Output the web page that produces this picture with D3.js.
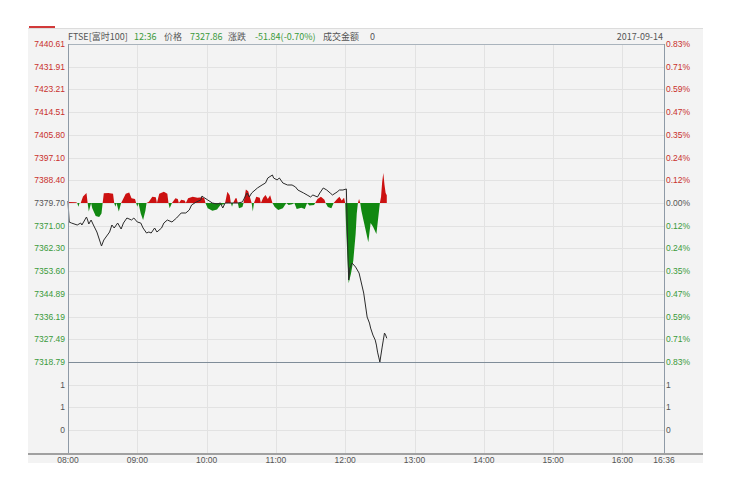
<!DOCTYPE html>
<html>
<head>
<meta charset="utf-8">
<title>FTSE 分时</title>
<script src="https://cdn.jsdelivr.net/npm/d3@7"></script>
<style>
  body { margin: 0; background: #fff; }
  text { font-family: "Liberation Sans", Arial, sans-serif; }
  .cjk { font-family: "Noto Sans CJK SC", "Liberation Sans", sans-serif; }
</style>
</head>
<body>
<svg id="chart"></svg>
<script>

// ---- data ----
var prevClose = 7379.70;
var priceTicks = [7440.61, 7431.91, 7423.21, 7414.51, 7405.80, 7397.10, 7388.40, 7379.70,
                  7371.00, 7362.30, 7353.60, 7344.89, 7336.19, 7327.49, 7318.79];
var volTicks = [1, 0.667, 0.333];
var hourTicks = ["08:00", "09:00", "10:00", "11:00", "12:00", "13:00", "14:00", "15:00", "16:00", "16:36"];

// price line, [time, price]
var priceSeries = [
  ["08:00",7380.47],["08:01",7372.42],["08:03",7372.03],["08:08",7371.27],["08:11",7372.03],
  ["08:12",7371.27],["08:16",7374.33],["08:17",7373.18],["08:18",7371.65],["08:20",7373.18],
  ["08:22",7371.27],["08:25",7368.59],["08:29",7363.22],["08:31",7365.52],["08:36",7368.59],
  ["08:38",7371.27],["08:40",7370.12],["08:43",7372.03],["08:46",7369.74],["08:48",7372.03],
  ["08:51",7373.95],["08:55",7373.18],["08:57",7373.95],["09:00",7372.42],["09:03",7372.03],
  ["09:05",7370.12],["09:08",7368.20],["09:10",7368.59],["09:12",7368.20],["09:15",7370.12],
  ["09:17",7368.59],["09:21",7370.12],["09:23",7372.03],["09:26",7373.18],["09:30",7372.42],
  ["09:34",7373.95],["09:38",7375.87],["09:42",7375.87],["09:45",7377.02],["09:47",7378.93],
  ["09:51",7380.08],["09:55",7380.85],["09:56",7382.38],["09:57",7382.00],["10:01",7380.85],
  ["10:05",7379.70],["10:09",7379.32],["10:12",7379.70],["10:14",7377.78],["10:16",7379.70],
  ["10:19",7379.70],["10:23",7379.70],["10:27",7379.70],["10:31",7380.08],["10:35",7383.53],
  ["10:37",7382.00],["10:39",7383.53],["10:44",7385.45],["10:48",7386.60],["10:51",7387.37],
  ["10:53",7389.28],["10:57",7390.43],["10:58",7389.28],["11:01",7388.52],["11:03",7389.28],
  ["11:06",7387.37],["11:10",7386.60],["11:14",7386.60],["11:17",7385.83],["11:19",7384.68],
  ["11:24",7383.53],["11:27",7382.77],["11:30",7382.00],["11:32",7382.77],["11:36",7382.00],
  ["11:38",7383.53],["11:41",7385.45],["11:44",7384.68],["11:47",7383.53],["11:49",7382.77],
  ["11:53",7383.92],["11:55",7384.68],["11:58",7384.68],["12:01",7385.07],["12:02",7365.52],
  ["12:03",7350.19],["12:04",7354.79],["12:06",7356.70],["12:09",7355.17],["12:12",7352.87],
  ["12:16",7345.21],["12:19",7336.01],["12:21",7333.71],["12:22",7331.79],["12:24",7329.11],
  ["12:26",7327.19],["12:27",7325.28],["12:28",7322.59],["12:29",7320.68],["12:30",7318.79],
  ["12:32",7324.51],["12:33",7327.19],["12:34",7329.88],["12:35",7329.11],["12:36",7327.86]
];

// red/green strength bars around previous close, [time, points]
var signalSeries = [
  ["08:00",0],["08:01",0.4],["08:07",0.3],["08:08",0],["08:09",-1.4],["08:10",0],["08:11",0],
  ["08:13",2.5],["08:16",3.8],["08:17",0],["08:18",-3.3],["08:20",0],["08:21",-2],["08:24",-5],
  ["08:27",-5.4],["08:29",-4],["08:30",0],["08:31",3.7],["08:35",3.8],["08:39",3.5],["08:40",0],
  ["08:41",-1.4],["08:42",0],["08:44",-3.3],["08:46",0],["08:50",3.5],["08:53",4],["08:55",1.8],
  ["08:58",1.5],["08:59",0],["09:00",-1.4],["09:01",0],["09:03",-4],["09:05",-6.5],["09:07",-3],
  ["09:08",0],["09:10",0.5],["09:13",2.4],["09:16",2.2],["09:17",0],["09:19",3.5],["09:23",4.3],
  ["09:26",3.5],["09:27",0],["09:28",-2],["09:30",0],["09:33",1.8],["09:35",1.5],["09:36",0],
  ["09:38",1.2],["09:41",1],["09:42",0],["09:44",1.8],["09:48",2.4],["09:52",2],["09:56",2.2],
  ["09:58",1.8],["09:59",0],["10:01",-2],["10:05",-3],["10:09",-2.5],["10:12",-0.8],["10:15",-0.5],
  ["10:16",0],["10:18",4.3],["10:20",3],["10:21",0],["10:22",-1.4],["10:23",0],["10:25",1.8],
  ["10:26",1.8],["10:27",0],["10:28",-2],["10:31",-1.5],["10:32",0],["10:34",5.2],["10:36",4.5],
  ["10:39",0],["10:40",-3.3],["10:41",0],["10:43",2.4],["10:46",2],["10:47",0],["10:49",2],
  ["10:51",3.1],["10:53",1.5],["10:55",3],["10:57",0],["10:59",-1.5],["11:02",-2.7],["11:06",-2],
  ["11:09",0],["11:11",-0.8],["11:14",-0.5],["11:16",0],["11:18",-2.3],["11:22",-1.8],["11:25",-2.3],
  ["11:27",0],["11:29",-1],["11:33",-0.8],["11:34",0],["11:36",1.5],["11:39",2.4],["11:42",1.2],
  ["11:43",0],["11:45",-1.5],["11:48",-2],["11:50",0],["11:53",1.5],["11:55",2.4],["11:57",1],
  ["11:59",2],["12:00",0],["12:01",-12],["12:03",-30.7],["12:05",-27],["12:07",-22],["12:09",-12],
  ["12:10",-4],["12:11",0],["12:12",1.5],["12:13",0],["12:14",-3],["12:16",-7],["12:18",-11],
  ["12:20",-15],["12:22",-7.7],["12:24",-9],["12:27",-11.9],["12:29",-4],["12:30",0],["12:31",2.3],
  ["12:32",8],["12:33",11.5],["12:34",7],["12:35",3.8],["12:36",3]
];

// ---- layout ----
var width = 731, height = 498;
var plotL = 68, plotR = 664, plotT = 44, plotMid = 362, plotB = 453;
var red = "#c9302c", green = "#3a9a3a", gray = "#555";
var upFill = "#cc1111", downFill = "#118811";
var parse = d3.timeParse("%H:%M");

var svg = d3.select("#chart").attr("width", width).attr("height", height);

svg.append("rect").attr("x", 28).attr("y", 28).attr("width", 675).attr("height", 435)
   .attr("fill", "#f3f3f3");
svg.append("line").attr("x1", 28).attr("x2", 703).attr("y1", 28.5).attr("y2", 28.5)
   .attr("stroke", "#dcdcdc");
svg.append("line").attr("x1", 29).attr("x2", 55).attr("y1", 27).attr("y2", 27)
   .attr("stroke", "#d23a3a").attr("stroke-width", 2);

var x = d3.scaleTime()
    .domain([parse("08:00"), parse("16:36")])
    .range([plotL, plotR]);
var y = d3.scaleLinear()
    .domain([priceTicks[priceTicks.length - 1], priceTicks[0]])
    .range([plotMid, plotT]);
var yv = d3.scaleLinear().domain([0, 1.333]).range([plotB, plotMid]);

// grid
var grid = svg.append("g").attr("stroke", "#e2e2e2").attr("shape-rendering", "crispEdges");
grid.selectAll(".hg").data(priceTicks).enter().append("line")
    .attr("x1", plotL).attr("x2", plotR)
    .attr("y1", function(d) { return Math.round(y(d)) + 0.5; })
    .attr("y2", function(d) { return Math.round(y(d)) + 0.5; });
grid.selectAll(".vg").data(volTicks).enter().append("line")
    .attr("x1", plotL).attr("x2", plotR)
    .attr("y1", function(d) { return Math.round(yv(d)) + 0.5; })
    .attr("y2", function(d) { return Math.round(yv(d)) + 0.5; });
grid.selectAll(".tg").data(hourTicks.slice(1, -1)).enter().append("line")
    .attr("y1", plotT).attr("y2", plotB)
    .attr("x1", function(d) { return Math.round(x(parse(d))) + 0.5; })
    .attr("x2", function(d) { return Math.round(x(parse(d))) + 0.5; });

// red / green area around previous close
var base = y(prevClose);
var area = d3.area()
    .x(function(d) { return x(parse(d[0])); })
    .y0(base)
    .y1(function(d) { return y(prevClose + d[1]); });

var defs = svg.append("defs");
defs.append("clipPath").attr("id", "clipUp").append("rect")
    .attr("x", plotL).attr("y", plotT).attr("width", plotR - plotL).attr("height", base - plotT);
defs.append("clipPath").attr("id", "clipDown").append("rect")
    .attr("x", plotL).attr("y", base).attr("width", plotR - plotL).attr("height", plotMid - base);

svg.append("path").datum(signalSeries).attr("d", area)
   .attr("fill", upFill).attr("clip-path", "url(#clipUp)");
svg.append("path").datum(signalSeries).attr("d", area)
   .attr("fill", downFill).attr("clip-path", "url(#clipDown)");

// price line
var line = d3.line()
    .x(function(d) { return x(parse(d[0])); })
    .y(function(d) { return y(d[1]); });
svg.append("path").datum(priceSeries).attr("d", line)
   .attr("fill", "none").attr("stroke", "#2a2a2a").attr("stroke-width", 1);

// frame
var frame = svg.append("g").attr("shape-rendering", "crispEdges");
frame.append("line").attr("x1", plotL).attr("x2", plotR).attr("y1", plotT + 0.5).attr("y2", plotT + 0.5)
     .attr("stroke", "#a9b3bc");
frame.append("line").attr("x1", plotL + 0.5).attr("x2", plotL + 0.5).attr("y1", plotT).attr("y2", plotB)
     .attr("stroke", "#8e9aa6");
frame.append("line").attr("x1", plotR + 0.5).attr("x2", plotR + 0.5).attr("y1", plotT).attr("y2", plotB)
     .attr("stroke", "#8e9aa6");
frame.append("line").attr("x1", plotL).attr("x2", plotR).attr("y1", plotMid + 0.5).attr("y2", plotMid + 0.5)
     .attr("stroke", "#7f8c98");
frame.append("line").attr("x1", 28).attr("x2", 703).attr("y1", plotB + 1).attr("y2", plotB + 1)
     .attr("stroke", "#a0a0a0").attr("stroke-width", 2);

function tickColor(d) {
  if (Math.abs(d - prevClose) < 0.005) return gray;
  return d > prevClose ? red : green;
}

// left price labels
svg.append("g").selectAll("text").data(priceTicks).enter().append("text")
   .attr("x", plotL - 3).attr("y", function(d) { return y(d); })
   .attr("dy", "0.35em").attr("text-anchor", "end").attr("font-size", "8.5px")
   .attr("fill", tickColor)
   .text(function(d) { return d.toFixed(2); });

// right percent labels
var pct = d3.format(".2f");
svg.append("g").selectAll("text").data(priceTicks).enter().append("text")
   .attr("x", plotR + 2).attr("y", function(d) { return y(d); })
   .attr("dy", "0.35em").attr("font-size", "8.5px")
   .attr("fill", tickColor)
   .text(function(d) { return pct(Math.abs(d - prevClose) / prevClose * 100) + "%"; });

// volume labels
var vf = d3.format(".0f");
svg.append("g").selectAll("text").data(volTicks).enter().append("text")
   .attr("x", plotL - 3).attr("y", function(d) { return yv(d); })
   .attr("dy", "0.35em").attr("text-anchor", "end").attr("font-size", "8.5px")
   .attr("fill", gray).text(vf);
svg.append("g").selectAll("text").data(volTicks).enter().append("text")
   .attr("x", plotR + 2).attr("y", function(d) { return yv(d); })
   .attr("dy", "0.35em").attr("font-size", "8.5px")
   .attr("fill", gray).text(vf);

// time labels
svg.append("g").selectAll("text").data(hourTicks).enter().append("text")
   .attr("x", function(d) { return x(parse(d)); }).attr("y", plotB + 7)
   .attr("dy", "0.35em").attr("text-anchor", "middle").attr("font-size", "8.5px")
   .attr("fill", gray).text(function(d) { return d; });

// header
var last = priceSeries[priceSeries.length - 1];
var chg = last[1] - prevClose;
var header = [
  { t: "FTSE[富时100]", c: gray, x: 68 },
  { t: last[0], c: green, x: 134 },
  { t: "价格", c: gray, x: 164 },
  { t: last[1].toFixed(2), c: green, x: 190 },
  { t: "涨跌", c: gray, x: 228 },
  { t: chg.toFixed(2) + "(" + (chg / prevClose * 100).toFixed(2) + "%)", c: green, x: 255 },
  { t: "成交金额", c: gray, x: 323 },
  { t: "0", c: gray, x: 370 }
];
svg.append("g").selectAll("text").data(header).enter().append("text")
   .attr("class", "cjk")
   .attr("x", function(d) { return d.x; }).attr("y", 40)
   .attr("font-size", "9px").attr("fill", function(d) { return d.c; })
   .text(function(d) { return d.t; });
svg.append("text").attr("class", "cjk").attr("x", 663).attr("y", 40)
   .attr("text-anchor", "end").attr("font-size", "9px").attr("fill", gray)
   .text("2017-09-14");

</script>
</body>
</html>
